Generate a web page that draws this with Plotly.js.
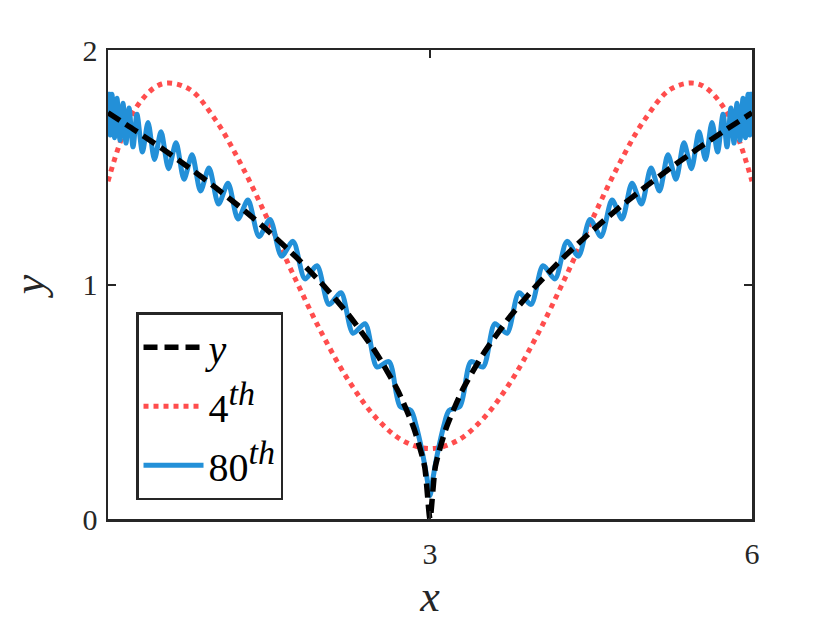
<!DOCTYPE html>
<html>
<head>
<meta charset="utf-8">
<script src="https://cdn.plot.ly/plotly-3.0.1.min.js"></script>
<style>
  html, body { margin: 0; padding: 0; background: #fff; }
  #chart { width: 830px; height: 623px; }
</style>
</head>
<body>
<div id="chart"></div>
<script>
// target function y
const xExact = [0, 0.25, 0.5, 0.75, 1.0, 1.25, 1.5, 1.75, 2.0, 2.25, 2.5, 2.7, 2.85, 2.95, 3.0,
                3.05, 3.15, 3.3, 3.5, 3.75, 4.0, 4.25, 4.5, 4.75, 5.0, 5.25, 5.5, 5.75, 6.0];
const yExact = [1.732, 1.658, 1.581, 1.500, 1.414, 1.323, 1.225, 1.118, 1.000, 0.866, 0.707, 0.548, 0.387, 0.224, 0.0,
                0.224, 0.387, 0.548, 0.707, 0.866, 1.000, 1.118, 1.225, 1.323, 1.414, 1.500, 1.581, 1.658, 1.732];

// 4th order approximation (red dotted)
const x4 = [0, 0.25, 0.5, 0.75, 1.0, 1.25, 1.5, 1.75, 2.0, 2.25, 2.5, 2.75, 3.0,
            3.25, 3.5, 3.75, 4.0, 4.25, 4.5, 4.75, 5.0, 5.25, 5.5, 5.75, 6.0];
const y4 = [1.440, 1.746, 1.855, 1.835, 1.703, 1.503, 1.266, 1.019, 0.785, 0.584, 0.430, 0.333, 0.300,
            0.333, 0.430, 0.584, 0.785, 1.019, 1.266, 1.503, 1.703, 1.835, 1.855, 1.746, 1.440];

// 80th order approximation (blue), peaks and troughs of the ripple
const x80 = [0, 0.019, 0.037, 0.061, 0.084, 0.112, 0.140, 0.168, 0.196, 0.233, 0.270, 0.321, 0.373, 0.433,
             0.494, 0.564, 0.634, 0.708, 0.783, 0.862, 0.941, 1.030, 1.118, 1.211, 1.304, 1.407, 1.509,
             1.617, 1.724, 1.835, 1.947, 2.059, 2.171, 2.283, 2.395, 2.506, 2.618, 2.721, 2.823,
             2.87, 2.93, 2.97, 3.0, 3.03, 3.07, 3.13,
             3.177, 3.279, 3.382, 3.494, 3.605, 3.717, 3.829, 3.941, 4.053, 4.165, 4.276, 4.383, 4.491,
             4.593, 4.696, 4.789, 4.882, 4.970, 5.059, 5.138, 5.217, 5.292, 5.366, 5.436, 5.506, 5.567,
             5.627, 5.679, 5.730, 5.767, 5.804, 5.832, 5.860, 5.888, 5.916, 5.939, 5.963, 5.981, 6.0];
const y80 = [1.822, 1.637, 1.811, 1.626, 1.794, 1.615, 1.773, 1.603, 1.753, 1.587, 1.726, 1.565, 1.691, 1.533,
             1.651, 1.494, 1.604, 1.449, 1.553, 1.399, 1.497, 1.343, 1.432, 1.279, 1.360, 1.205, 1.277,
             1.121, 1.184, 1.024, 1.080, 0.915, 0.965, 0.792, 0.833, 0.648, 0.671, 0.480, 0.463,
             0.400, 0.280, 0.180, 0.100, 0.180, 0.280, 0.400,
             0.463, 0.480, 0.671, 0.648, 0.833, 0.792, 0.965, 0.915, 1.080, 1.024, 1.184, 1.121, 1.277,
             1.205, 1.360, 1.279, 1.432, 1.343, 1.497, 1.399, 1.553, 1.449, 1.604, 1.494, 1.651, 1.533,
             1.691, 1.565, 1.726, 1.587, 1.753, 1.603, 1.773, 1.615, 1.794, 1.626, 1.811, 1.637, 1.822];

const xTicks = [3, 6];
const yTicks = [0, 1, 2];

const serif = 'Liberation Serif';
const axisColor = '#262626';

const data = [
    {
        x: x4, y: y4, type: 'scatter', mode: 'lines',
        name: '4<sup><span style="font-size:34px"><i>th</i></span></sup>',
        line: {color: '#ff4d4d', width: 5, dash: '5px,5px', shape: 'spline', smoothing: 1},
        legendrank: 2, legendgroup: 'b'
    },
    {
        x: x80, y: y80, type: 'scatter', mode: 'lines',
        name: '80<sup><span style="font-size:34px"><i>th</i></span></sup>',
        line: {color: '#2390d8', width: 5, shape: 'spline', smoothing: 0.8},
        legendrank: 3, legendgroup: 'c'
    },
    {
        x: xExact, y: yExact, type: 'scatter', mode: 'lines',
        name: '<i>y</i>',
        line: {color: '#000000', width: 5.5, dash: '14px,7px', shape: 'spline', smoothing: 0.6},
        legendrank: 1, legendgroup: 'a'
    }
];

const layout = {
    width: 830,
    height: 623,
    margin: {l: 108, r: 78, t: 50, b: 104},
    paper_bgcolor: '#ffffff',
    plot_bgcolor: '#ffffff',
    showlegend: true,
    font: {family: serif, color: axisColor, size: 30},
    xaxis: {
        range: [0, 6],
        tickvals: xTicks,
        ticks: 'inside',
        ticklen: 8,
        tickwidth: 2,
        tickcolor: axisColor,
        showline: true,
        linecolor: axisColor,
        linewidth: 2.5,
        mirror: 'ticks',
        showgrid: false,
        zeroline: false,
        ticklabelstandoff: 6,
        tickfont: {family: serif, size: 30, color: axisColor},
        title: {text: '<i>x</i>', font: {family: serif, size: 44, color: axisColor}, standoff: 12}
    },
    yaxis: {
        range: [0, 2],
        tickvals: yTicks,
        ticks: 'inside',
        ticklen: 8,
        tickwidth: 2,
        tickcolor: axisColor,
        showline: true,
        linecolor: axisColor,
        linewidth: 2.5,
        mirror: 'ticks',
        showgrid: false,
        zeroline: false,
        ticklabelstandoff: 2,
        tickfont: {family: serif, size: 30, color: axisColor},
        title: {text: '<i>y</i>', font: {family: serif, size: 44, color: axisColor}, standoff: 24}
    },
    legend: {
        x: 0.0435,
        y: 0.441,
        xanchor: 'left',
        yanchor: 'top',
        bgcolor: '#ffffff',
        bordercolor: axisColor,
        borderwidth: 2.5,
        itemwidth: 60,
        tracegroupgap: 4,
        font: {family: serif, size: 40, color: '#000000'}
    }
};

Plotly.newPlot('chart', data, layout, {displayModeBar: false, staticPlot: true});
</script>
</body>
</html>
